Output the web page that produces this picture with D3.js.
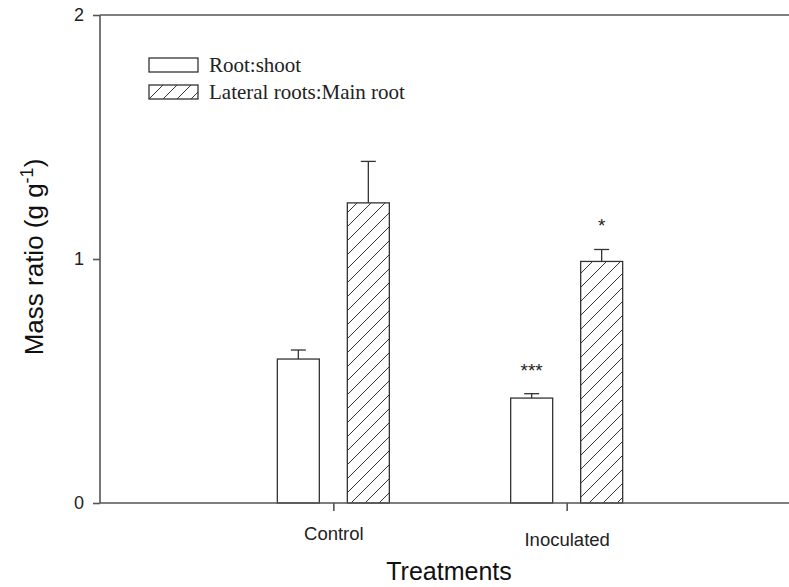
<!DOCTYPE html>
<html>
<head>
<meta charset="utf-8">
<script src="https://cdn.jsdelivr.net/npm/d3@7"></script>
<style>
  body { margin: 0; background: #fff; }
  svg { display: block; }
</style>
</head>
<body>
<svg width="789" height="587"></svg>
<script>
// chart data
var categories = ["Control", "Inoculated"];
var series = ["Root:shoot", "Lateral roots:Main root"];
var rootShoot = [0.59, 0.43];
var rootShootErr = [0.037, 0.018];
var lateralMain = [1.23, 0.99];
var lateralMainErr = [0.17, 0.049];
var marks = [["", "***"], ["", "*"]];   // significance, per series per category
var yTicks = [0, 1, 2];

var width = 789, height = 587;
var margin = { top: 15, left: 100, bottom: 84 };

var svg = d3.select("svg");

// hatch pattern for second series
var defs = svg.append("defs");
defs.append("pattern")
    .attr("id", "hatch")
    .attr("patternUnits", "userSpaceOnUse")
    .attr("width", 14)
    .attr("height", 14)
    .append("path")
    .attr("d", "M-1,1 L1,-1 M0,14 L14,0 M13,15 L15,13")
    .attr("stroke", "#333")
    .attr("stroke-width", 1);

var y = d3.scaleLinear()
    .domain([0, 2])
    .range([height - margin.bottom, margin.top]);

var x0 = d3.scalePoint()
    .domain(categories)
    .range([margin.left, 800])
    .padding(1);

var x1 = d3.scaleBand()
    .domain(series)
    .range([-56, 56])
    .paddingInner(0.4);

var values = [rootShoot, lateralMain];
var errs = [rootShootErr, lateralMainErr];

var rows = [];
series.forEach(function (s, si) {
    categories.forEach(function (c, ci) {
        rows.push({ s: s, si: si, c: c, v: values[si][ci], e: errs[si][ci], m: marks[si][ci] });
    });
});

var axisColor = "#555";

// top frame line
svg.append("line")
    .attr("x1", margin.left).attr("x2", width)
    .attr("y1", y(2)).attr("y2", y(2))
    .attr("stroke", axisColor).attr("stroke-width", 1.6);

// bars
var bars = svg.append("g");
bars.selectAll("rect")
    .data(rows)
    .enter().append("rect")
    .attr("x", function (d) { return x0(d.c) + x1(d.s); })
    .attr("y", function (d) { return y(d.v); })
    .attr("width", x1.bandwidth())
    .attr("height", function (d) { return y(0) - y(d.v); })
    .attr("fill", function (d) { return d.si === 1 ? "url(#hatch)" : "#fff"; })
    .attr("stroke", "#333")
    .attr("stroke-width", 1.3);

// error bars (upper only)
var eb = bars.selectAll("g.err")
    .data(rows)
    .enter().append("g")
    .attr("class", "err")
    .attr("stroke", "#333")
    .attr("stroke-width", 1.3);
eb.append("line")
    .attr("x1", function (d) { return x0(d.c) + x1(d.s) + x1.bandwidth() / 2; })
    .attr("x2", function (d) { return x0(d.c) + x1(d.s) + x1.bandwidth() / 2; })
    .attr("y1", function (d) { return y(d.v); })
    .attr("y2", function (d) { return y(d.v + d.e); });
eb.append("line")
    .attr("x1", function (d) { return x0(d.c) + x1(d.s) + x1.bandwidth() / 2 - 7.5; })
    .attr("x2", function (d) { return x0(d.c) + x1(d.s) + x1.bandwidth() / 2 + 7.5; })
    .attr("y1", function (d) { return y(d.v + d.e); })
    .attr("y2", function (d) { return y(d.v + d.e); });

// significance stars
bars.selectAll("text.sig")
    .data(rows.filter(function (d) { return d.m; }))
    .enter().append("text")
    .attr("class", "sig")
    .attr("x", function (d) { return x0(d.c) + x1(d.s) + x1.bandwidth() / 2; })
    .attr("y", function (d) { return y(d.v + d.e) - 17; })
    .attr("text-anchor", "middle")
    .style("font-family", "Arial, 'Liberation Sans', sans-serif")
    .style("font-size", "19px")
    .attr("fill", "#222")
    .text(function (d) { return d.m; });

// y axis
var yAxis = svg.append("g")
    .attr("transform", "translate(" + margin.left + ",0)")
    .call(d3.axisLeft(y).tickValues(yTicks).tickSize(7).tickPadding(9).tickFormat(d3.format("d")));
yAxis.selectAll("path, line").attr("stroke", axisColor).attr("stroke-width", 1.6);
yAxis.select("path").attr("d", "M0," + y(0) + "V" + y(2));
yAxis.selectAll("text")
    .attr("fill", "#222")
    .style("font-family", "Arial, 'Liberation Sans', sans-serif")
    .style("font-size", "18px");

// x axis
var xAxis = svg.append("g")
    .attr("transform", "translate(0," + y(0) + ")")
    .call(d3.axisBottom(x0).tickSize(8).tickPadding(16));
xAxis.selectAll("path, line").attr("stroke", axisColor).attr("stroke-width", 1.6);
xAxis.select("path").attr("d", "M" + margin.left + ",0H" + width);
xAxis.selectAll("text")
    .attr("fill", "#222")
    .attr("dy", function (d, i) { return i === 1 ? "1.0em" : "0.71em"; })
    .style("font-family", "Arial, 'Liberation Sans', sans-serif")
    .style("font-size", "18.5px");

// axis titles
svg.append("text")
    .attr("x", 449)
    .attr("y", 580)
    .attr("text-anchor", "middle")
    .attr("fill", "#111")
    .style("font-family", "Arial, 'Liberation Sans', sans-serif")
    .style("font-size", "25px")
    .text("Treatments");

var yTitle = svg.append("text")
    .attr("transform", "translate(43,257) rotate(-90)")
    .attr("text-anchor", "middle")
    .attr("fill", "#111")
    .style("font-family", "Arial, 'Liberation Sans', sans-serif")
    .style("font-size", "26px");
yTitle.append("tspan").text("Mass ratio (g g");
yTitle.append("tspan").attr("dy", -10).style("font-size", "18px").text("-1");
yTitle.append("tspan").attr("dy", 10).text(")");

// legend
var legend = svg.append("g")
    .attr("transform", "translate(149,58)");
var li = legend.selectAll("g")
    .data(series)
    .enter().append("g")
    .attr("transform", function (d, i) { return "translate(0," + i * 27 + ")"; });
li.append("rect")
    .attr("width", 49)
    .attr("height", 14)
    .attr("fill", function (d, i) { return i === 1 ? "url(#hatch)" : "#fff"; })
    .attr("stroke", "#333")
    .attr("stroke-width", 1.3);
li.append("text")
    .attr("x", 60)
    .attr("y", 14)
    .attr("fill", "#222")
    .style("font-family", "'Times New Roman', 'Liberation Serif', serif")
    .style("font-size", "21px")
    .text(function (d) { return d; });
</script>
</body>
</html>
